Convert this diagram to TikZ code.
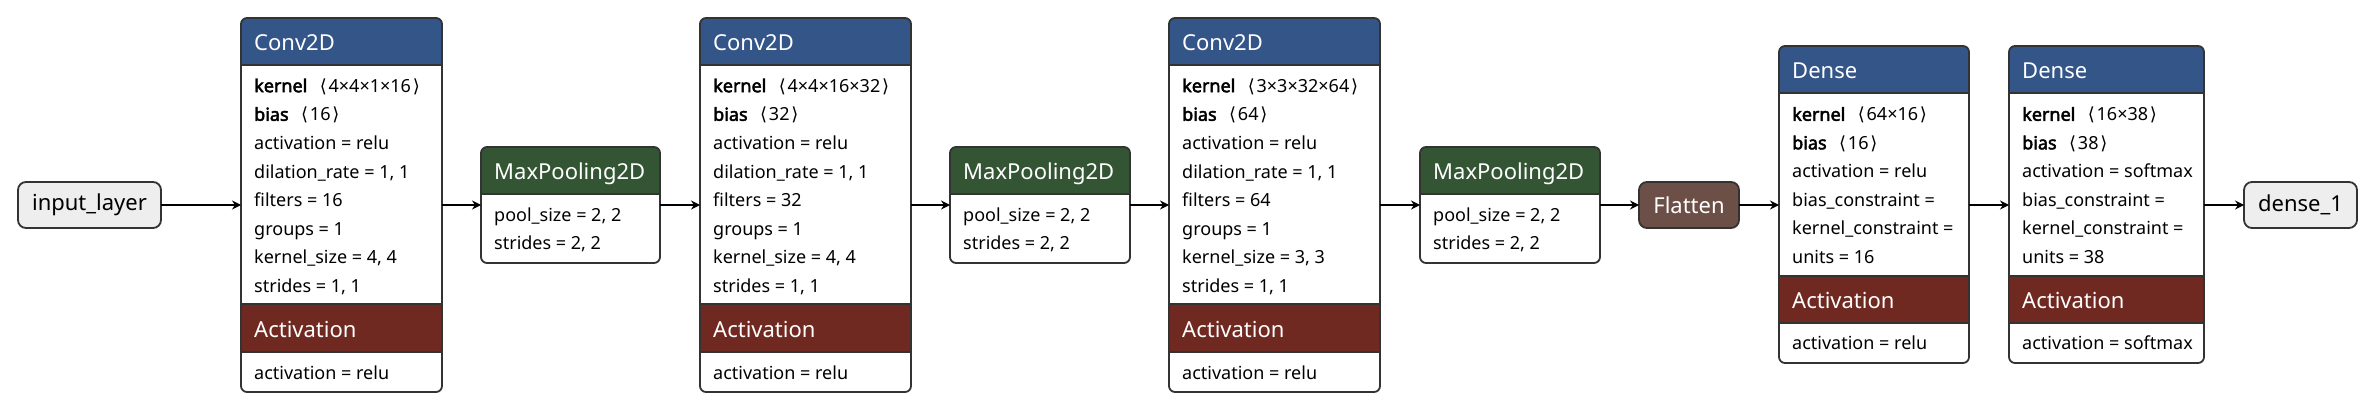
\documentclass[tikz,border=0pt]{standalone}
\usepackage{fontspec}
\setmainfont{Noto Sans}[BoldFont={Noto Sans}, BoldFeatures={FakeBold=2.6}]
\newfontfamily\symf{DejaVu Sans}
\usetikzlibrary{arrows.meta}
\definecolor{convc}{RGB}{51,85,136}
\definecolor{poolc}{RGB}{51,85,51}
\definecolor{actc}{RGB}{112,41,33}
\definecolor{flatc}{RGB}{108,79,71}
\definecolor{bordc}{RGB}{51,51,51}
\definecolor{termc}{RGB}{238,238,238}
\newcommand\topband[5]{\fill[#5] (#1,#4) [rounded corners=6pt] -- (#1,#3) -- (#2,#3) [sharp corners] -- (#2,#4) -- cycle; \draw[sepl] (#1,#4) -- (#2,#4);}
\newcommand\midband[5]{\fill[#5] (#1,#3) rectangle (#2,#4); \draw[sepl] (#1,#3) -- (#2,#3) (#1,#4) -- (#2,#4);}
\newcommand\shp[1]{\hspace{10pt}{\symf ⟨}\kern1.8pt#1\kern1.8pt{\symf ⟩}}
\newcommand\kw[1]{\textbf{#1}\kern2.5pt}
\tikzset{
  blk/.style={draw=bordc, line width=1.8pt, rounded corners=6pt, inner sep=0pt, outer sep=0pt},
  sepl/.style={draw=bordc, line width=1.8pt},
  row/.style={anchor=west, inner sep=0pt, font=\fontsize{18}{22}\selectfont, text height=13pt, text depth=0pt},
  htxt/.style={anchor=west, inner sep=0pt, text=white, font=\fontsize{22}{26}\selectfont, text height=16pt, text depth=0pt},
  term/.style={draw=bordc, fill=termc, line width=1.8pt, rounded corners=8pt, inner sep=0pt, outer sep=0pt, font=\fontsize{22}{26}\selectfont, minimum height=46pt},
  arr/.style={draw=black, line width=1.8pt, -{Stealth[length=9pt,width=9pt,inset=3pt]}}
}
\begin{document}
\begin{tikzpicture}[x=1pt,y=-1pt]
\fill[white] (0,0) rectangle (2376,412);
\useasboundingbox (0,0) rectangle (2376,412);

% input
\node[term, minimum width=143pt] (inp) at (89.5,205) {input\_layer};

% Conv1
\topband{241}{442}{18}{65}{convc}
\midband{241}{442}{304.3}{351.7}{actc}
\node[blk, minimum width=201pt, minimum height=374pt] (c1) at (341.5,205) {};
\node[htxt] (c1h) at (254,42.3) {Conv2D};
\node[row] (c1r1) at (254,85.7) {\kw{kernel}\shp{4×4×1×16}};
\node[row] (c1r2) at (254,114.3) {\kw{bias}\shp{16}};
\node[row] (c1r3) at (254,142.9) {activation = relu};
\node[row] (c1r4) at (254,171.5) {dilation\_rate = 1, 1};
\node[row] (c1r5) at (254,200.1) {filters = 16};
\node[row] (c1r6) at (254,228.7) {groups = 1};
\node[row] (c1r7) at (254,257.3) {kernel\_size = 4, 4};
\node[row] (c1r8) at (254,285.9) {strides = 1, 1};
\node[htxt] (c1a) at (254,329) {Activation};
\node[row] (c1a1) at (254,373) {activation = relu};

% Pool1
\topband{481}{660}{147}{194}{poolc}
\node[blk, minimum width=179pt, minimum height=116pt] (p1) at (570.5,205) {};
\node[htxt] (p1h) at (494,171.3) {MaxPooling2D};
\node[row] (p1r1) at (494,215) {pool\_size = 2, 2};
\node[row] (p1r2) at (494,243) {strides = 2, 2};

% Conv2
\topband{700}{911}{18}{65}{convc}
\midband{700}{911}{304.3}{351.7}{actc}
\node[blk, minimum width=211pt, minimum height=374pt] (c2) at (805.5,205) {};
\node[htxt] (c2h) at (713,42.3) {Conv2D};
\node[row] (c2r1) at (713,85.7) {\kw{kernel}\shp{4×4×16×32}};
\node[row] (c2r2) at (713,114.3) {\kw{bias}\shp{32}};
\node[row] (c2r3) at (713,142.9) {activation = relu};
\node[row] (c2r4) at (713,171.5) {dilation\_rate = 1, 1};
\node[row] (c2r5) at (713,200.1) {filters = 32};
\node[row] (c2r6) at (713,228.7) {groups = 1};
\node[row] (c2r7) at (713,257.3) {kernel\_size = 4, 4};
\node[row] (c2r8) at (713,285.9) {strides = 1, 1};
\node[htxt] (c2a) at (713,329) {Activation};
\node[row] (c2a1) at (713,373) {activation = relu};

% Pool2
\topband{950}{1130}{147}{194}{poolc}
\node[blk, minimum width=180pt, minimum height=116pt] (p2) at (1040,205) {};
\node[htxt] (p2h) at (963,171.3) {MaxPooling2D};
\node[row] (p2r1) at (963,215) {pool\_size = 2, 2};
\node[row] (p2r2) at (963,243) {strides = 2, 2};

% Conv3
\topband{1169}{1380}{18}{65}{convc}
\midband{1169}{1380}{304.3}{351.7}{actc}
\node[blk, minimum width=211pt, minimum height=374pt] (c3) at (1274.5,205) {};
\node[htxt] (c3h) at (1182,42.3) {Conv2D};
\node[row] (c3r1) at (1182,85.7) {\kw{kernel}\shp{3×3×32×64}};
\node[row] (c3r2) at (1182,114.3) {\kw{bias}\shp{64}};
\node[row] (c3r3) at (1182,142.9) {activation = relu};
\node[row] (c3r4) at (1182,171.5) {dilation\_rate = 1, 1};
\node[row] (c3r5) at (1182,200.1) {filters = 64};
\node[row] (c3r6) at (1182,228.7) {groups = 1};
\node[row] (c3r7) at (1182,257.3) {kernel\_size = 3, 3};
\node[row] (c3r8) at (1182,285.9) {strides = 1, 1};
\node[htxt] (c3a) at (1182,329) {Activation};
\node[row] (c3a1) at (1182,373) {activation = relu};

% Pool3
\topband{1420}{1600}{147}{194}{poolc}
\node[blk, minimum width=180pt, minimum height=116pt] (p3) at (1510,205) {};
\node[htxt] (p3h) at (1433,171.3) {MaxPooling2D};
\node[row] (p3r1) at (1433,215) {pool\_size = 2, 2};
\node[row] (p3r2) at (1433,243) {strides = 2, 2};

% Flatten
\node[term, fill=flatc, text=white, minimum width=100pt] (fl) at (1689,205) {Flatten};

% Dense1
\topband{1779}{1969}{46}{93.3}{convc}
\midband{1779}{1969}{276}{322.7}{actc}
\node[blk, minimum width=190pt, minimum height=317pt] (d1) at (1874,204.5) {};
\node[htxt] (d1h) at (1792,70.7) {Dense};
\node[row] (d1r1) at (1792,114.3) {\kw{kernel}\shp{64×16}};
\node[row] (d1r2) at (1792,142.8) {\kw{bias}\shp{16}};
\node[row] (d1r3) at (1792,171.3) {activation = relu};
\node[row] (d1r4) at (1792,199.8) {bias\_constraint =};
\node[row] (d1r5) at (1792,228.3) {kernel\_constraint =};
\node[row] (d1r6) at (1792,256.8) {units = 16};
\node[htxt] (d1a) at (1792,300.4) {Activation};
\node[row] (d1a1) at (1792,343) {activation = relu};

% Dense2
\topband{2009}{2204}{46}{93.3}{convc}
\midband{2009}{2204}{276}{322.7}{actc}
\node[blk, minimum width=195pt, minimum height=317pt] (d2) at (2106.5,204.5) {};
\node[htxt] (d2h) at (2022,70.7) {Dense};
\node[row] (d2r1) at (2022,114.3) {\kw{kernel}\shp{16×38}};
\node[row] (d2r2) at (2022,142.8) {\kw{bias}\shp{38}};
\node[row] (d2r3) at (2022,171.3) {activation = softmax};
\node[row] (d2r4) at (2022,199.8) {bias\_constraint =};
\node[row] (d2r5) at (2022,228.3) {kernel\_constraint =};
\node[row] (d2r6) at (2022,256.8) {units = 38};
\node[htxt] (d2a) at (2022,300.4) {Activation};
\node[row] (d2a1) at (2022,343) {activation = softmax};

% output
\node[term, minimum width=113pt] (out) at (2300.5,205) {dense\_1};

% connectors
\draw[arr] (inp.east) -- (c1.west);
\draw[arr] (c1.east) -- (p1.west);
\draw[arr] (p1.east) -- (c2.west);
\draw[arr] (c2.east) -- (p2.west);
\draw[arr] (p2.east) -- (c3.west);
\draw[arr] (c3.east) -- (p3.west);
\draw[arr] (p3.east) -- (fl.west);
\draw[arr] (fl.east) -- (d1.west |- fl.east);
\draw[arr] (d1.east |- fl.east) -- (d2.west |- fl.east);
\draw[arr] (d2.east |- fl.east) -- (out.west);
\end{tikzpicture}
\end{document}
